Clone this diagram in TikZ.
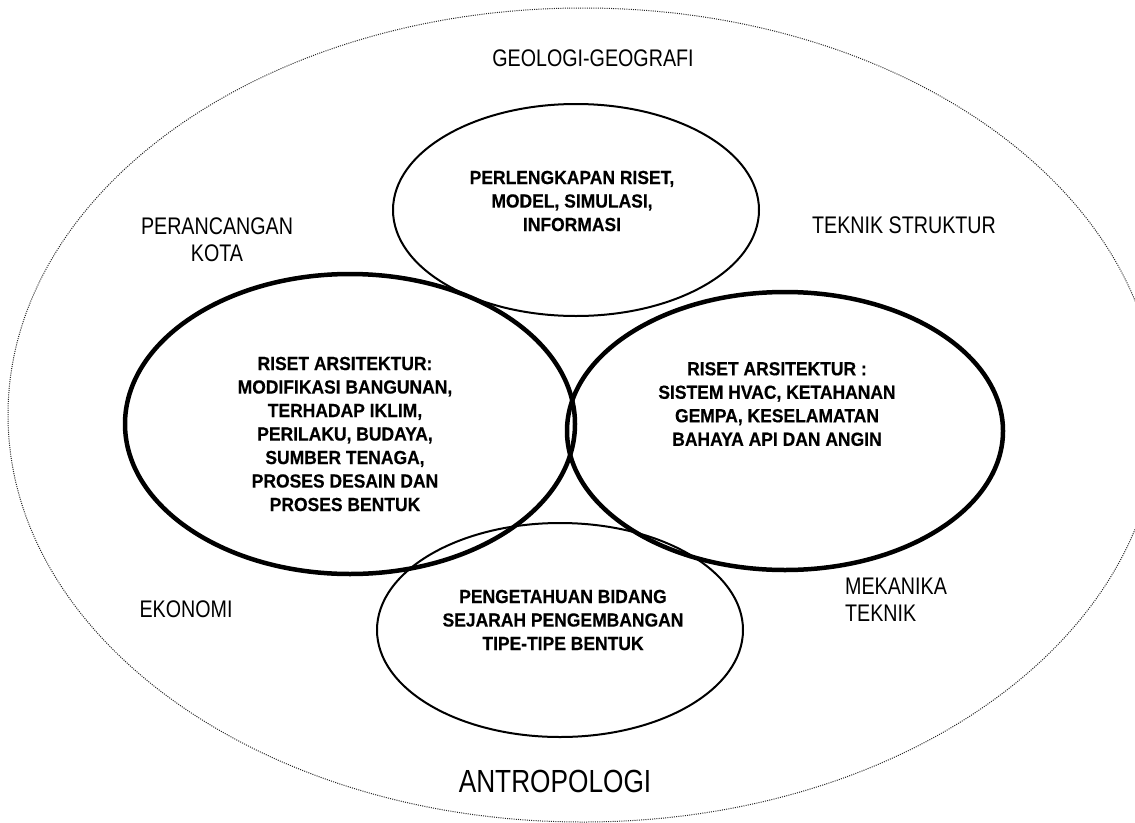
\documentclass[tikz,border=0pt]{standalone}
\usepackage{fontspec}
\setmainfont{Liberation Sans}
\newfontfamily\narrowfont{Liberation Sans}[FakeStretch=0.82]
\newfontfamily\boldfont{Liberation Sans}[FakeStretch=0.92, FakeBold=0.4]
\usepackage{tikz}
\usetikzlibrary{shapes}
\usetikzlibrary{shapes.geometric}
\tikzstyle{field} = [draw=none, align=center, inner sep = 1, font=\narrowfont\fontsize{24}{27}\selectfont]
\tikzstyle{topic} = [draw=none, align=center, inner sep = 1, font=\boldfont\bfseries\fontsize{19}{23.5}\selectfont]
\tikzstyle{bubble} = [ellipse, draw=black, line width=2pt, inner sep=0]
\tikzstyle{bigbubble} = [ellipse, draw=black, line width=4.5pt, inner sep=0]

\begin{document}
\begin{tikzpicture}[x=1pt, y=-1pt]
\useasboundingbox (0,0) rectangle (1135,822);
%\fill[white] (0,0) rectangle (1135,822);
\node [ellipse, draw=black!85, line width=1pt, dash pattern=on 1pt off 1.2pt, minimum width=1150, minimum height=814] (outer) at (583, 415) {};
\node [bubble, minimum width=366, minimum height=212] (alatE) at (576, 210) {};
\node [bigbubble, minimum width=450, minimum height=300] (kiriE) at (350, 424) {};
\node [bigbubble, minimum width=436, minimum height=278] (kananE) at (785, 431) {};
\node [bubble, minimum width=366, minimum height=214] (bawahE) at (560, 630) {};
\node [topic] (alat) at (572, 201) {PERLENGKAPAN RISET,\\MODEL, SIMULASI,\\INFORMASI};
\node [topic] (kiri) at (345, 434) {RISET ARSITEKTUR:\\MODIFIKASI BANGUNAN,\\TERHADAP IKLIM,\\PERILAKU, BUDAYA,\\SUMBER TENAGA,\\PROSES DESAIN DAN\\PROSES BENTUK};
\node [topic] (kanan) at (777, 404) {RISET ARSITEKTUR :\\SISTEM HVAC, KETAHANAN\\GEMPA, KESELAMATAN\\BAHAYA API DAN ANGIN};
\node [topic] (bawah) at (563, 620) {PENGETAHUAN BIDANG\\SEJARAH PENGEMBANGAN\\TIPE-TIPE BENTUK};
\node [field] (geo) at (593, 58) {GEOLOGI-GEOGRAFI};
\node [field] (kota) at (217, 240) {PERANCANGAN\\KOTA};
\node [field] (struktur) at (904, 225) {TEKNIK STRUKTUR};
\node [field] (ekonomi) at (186, 609) {EKONOMI};
\node [field, align=left, anchor=west] (mekanika) at (844, 600) {MEKANIKA\\TEKNIK};
\node [field, font=\narrowfont\fontsize{32}{36}\selectfont] (antro) at (555, 781) {ANTROPOLOGI};
\end{tikzpicture}
\end{document}
